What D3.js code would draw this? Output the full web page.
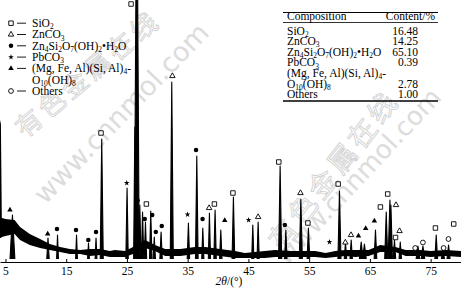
<!doctype html>
<html>
<head>
<meta charset="utf-8">
<style>
  body { margin: 0; background: #fff; }
  svg { display: block; font-family: "Liberation Serif", "Times New Roman", serif; }
  .open { fill: #fff; stroke: #000; stroke-width: 0.9; }
  .solid { fill: #000; stroke: none; }
  .wm-cn { font-family: "Noto Sans CJK SC", sans-serif; fill: none; stroke: #d2d2d2; stroke-width: 0.9; }
  .wm-en { font-family: "DejaVu Sans", sans-serif; fill: #dcdcdc; }
</style>
<script src="https://d3js.org/d3.v7.min.js"></script>
</head>
<body>
<svg width="461" height="289"></svg>
<script>
// background band of the scan (upper / lower edge of the noise), 2theta in degrees
var bgTheta = [4.1, 4.25, 4.4, 5.0, 6.5, 7.4, 9.0, 10.7, 12.3, 14.0, 15.6, 17.3, 18.9, 20.6, 22.2, 23.0,
               24.7, 26.0, 28.0, 29.6, 31.3, 33.8, 36.2, 37.9, 40.3, 42.8, 44.4, 47.7, 49.4, 51.9, 56.0,
               57.7, 59.3, 61.0, 62.6, 64.8, 66.7, 69.2, 70.9, 73.3, 75.0, 77.5, 80.0];
var bgUpper = [142, 138, 44, 43, 42, 35, 28, 23, 18, 15, 13, 12, 13, 13, 11, 12,
               11, 15, 22, 17, 13, 13, 15, 15, 13, 11, 9, 11, 12, 11, 11,
               9, 11, 12, 12, 12, 17, 15, 12, 12, 11, 12, 11];
var bgLower = [24, 24, 25, 26, 28, 22, 17, 14, 12, 10, 8, 8, 6, 7, 5, 5,
               5, 8, 14, 11, 6, 6, 8, 8, 6, 4, 4, 4, 5, 5, 5,
               4, 5, 6, 5, 6, 10, 10, 6, 6, 5, 6, 5];

// diffraction peaks
var peakTheta  = [6.15, 12.0, 13.57, 16.7, 18.67, 19.91, 20.85, 25.02, 26.3, 26.62, 27.12, 27.57, 28.05, 28.92, 29.5,
                  30.62, 32.38, 35.12, 36.5, 37.49, 38.58, 39.51, 40.45, 42.53, 45.72, 46.6, 50.22, 51.16, 53.63,
                  54.88, 59.99, 60.98, 61.92, 63.57, 64.1, 65.92, 67.69, 68.3, 68.46, 69.05, 70.0, 72.91, 73.73,
                  75.92, 77.02, 77.95];
var peakHeight = [47, 24, 27, 27, 19, 24, 123, 74, 135, 420, 57, 50, 40, 51, 25,
                  30, 180, 39, 106, 34, 49, 52, 32, 65, 37, 40, 96, 32, 63,
                  34, 71, 20, 22, 20, 18, 32, 50, 62, 57, 22, 20, 16, 16,
                  27, 14, 17];
var peakWidth  = [0.4, 0.2, 0.15, 0.15, 0.15, 0.15, 0.25, 0.2, 0.2, 0.4, 0.2, 0.2, 0.2, 0.2, 0.2,
                  0.2, 0.25, 0.2, 0.22, 0.18, 0.18, 0.2, 0.2, 0.22, 0.18, 0.18, 0.25, 0.2, 0.25,
                  0.22, 0.25, 0.2, 0.2, 0.3, 0.3, 0.22, 0.25, 0.3, 0.25, 0.2, 0.2, 0.3, 0.3,
                  0.22, 0.25, 0.25];

// phase labels placed over the peaks (index into phases)
var markTheta  = [25.68, 5.74, 11.95, 13.48, 16.61, 18.64, 19.91, 20.73, 24.97, 26.75, 27.93, 28.2, 29.17, 29.75,
                  30.73, 32.48, 34.98, 36.38, 37.45, 38.53, 39.4, 41.1, 42.45, 45.03, 46.6, 50.0, 51.0, 53.57,
                  54.79, 58.34, 59.78, 60.96, 61.89, 63.12, 64.31, 65.74, 66.73, 67.93, 69.3, 69.22, 69.88,
                  72.46, 73.73, 75.79, 77.13, 77.93, 78.8];
var markHeight = [258, 52, 28, 33, 32, 22, 30, 129, 79, 61.5, 43, 58, 47, 30,
                  36, 186, 47.5, 112, 43, 54, 58, 41.5, 69, 42, 45, 100, 37, 69,
                  39, 20, 78, 19.5, 27, 26, 33.5, 41, 55, 68, 57, 24.5, 31,
                  14, 19.5, 34, 14, 23, 38];
var markPhase  = [0, 4, 4, 2, 2, 2, 2, 0, 3, 2, 2, 0, 2, 2,
                  2, 1, 3, 2, 2, 1, 0, 4, 0, 3, 1, 0, 2, 1,
                  0, 3, 0, 1, 1, 4, 4, 4, 0, 0, 1, 0, 1,
                  5, 5, 0, 5, 5, 0];

var phases = ["SiO_2", "ZnCO_3", "Zn_4Si_2O_7(OH)_2•H_2O", "PbCO_3", "(Mg, Fe, Al)(Si, Al)_4-", "Others"];
var phaseExtra = ["", "", "", "", "O_{10}(OH)_8", ""];

var tableNames = ["SiO_2", "ZnCO_3", "Zn_4Si_2O_7(OH)_2•H_2O", "PbCO_3", "(Mg, Fe, Al)(Si, Al)_4-", "O_{10}(OH)_8", "Others"];
var tableValues = ["16.48", "14.25", "65.10", "0.39", "", "2.78", "1.00"];

var tickValues = [5, 15, 25, 35, 45, 55, 65, 75];

var svg = d3.select("svg");

var x = d3.scaleLinear().domain([4.1, 80]).range([0, 461]),
    y = d3.scaleLinear().domain([0, 262]).range([262, 0]);

// watermark of the source site
var wm = svg.append("g");
[[88, 74, -40, "有色金属在线", "wm-cn", 26],
 [334, 170, -52, "有色金属在线", "wm-cn", 28],
 [121, 113, -46, "www.cnnmol.com", "wm-en", 27],
 [358, 176, -47, "www.cnnmol.com", "wm-en", 26]].forEach(function(w) {
    wm.append("text")
      .attr("class", w[4])
      .attr("transform", "translate(" + w[0] + "," + w[1] + ") rotate(" + w[2] + ")")
      .attr("text-anchor", "middle")
      .attr("dy", "0.35em")
      .attr("font-size", w[5] + "px")
      .attr("letter-spacing", w[4] == "wm-cn" ? 4 : 0)
      .text(w[3]);
});

svg.append("clipPath").attr("id", "plot")
   .append("rect").attr("x", 0).attr("y", 0).attr("width", 461).attr("height", 262);

var g = svg.append("g").attr("clip-path", "url(#plot)");

var band = bgTheta.map(function(t, i) { return [t, bgUpper[i], bgLower[i]]; });
g.append("path")
 .datum(band)
 .attr("fill", "#000")
 .attr("d", d3.area()
     .x(function(d) { return x(d[0]); })
     .y0(function(d) { return y(d[2]); })
     .y1(function(d) { return y(d[1]); }));

var line = d3.line().x(function(d) { return x(d[0]); }).y(function(d) { return y(d[1]); });
g.selectAll(".peak")
 .data(peakTheta)
 .enter().append("path")
 .attr("class", "peak")
 .attr("fill", "#000")
 .attr("stroke", "#000")
 .attr("stroke-width", 1.1)
 .attr("stroke-linejoin", "round")
 .attr("d", function(t, i) {
     var w = peakWidth[i];
     return line([[t - w, 3], [t, peakHeight[i]], [t + w, 3]]);
 });

var axis = svg.append("g")
   .attr("transform", "translate(0,262)")
   .call(d3.axisBottom(x).tickValues(tickValues).tickSizeInner(-3).tickSizeOuter(0)
          .tickPadding(5).tickFormat(d3.format("d")));
axis.attr("font-family", null).attr("font-size", null);
axis.select(".domain").attr("stroke-width", 1.2);
axis.selectAll("text").attr("font-size", "11.5px");

svg.append("text")
   .attr("x", 229).attr("y", 285)
   .attr("text-anchor", "middle")
   .attr("font-size", "11.5px")
   .call(function(t) {
       t.append("tspan").attr("font-style", "italic").text("2θ");
       t.append("tspan").text("/(°)");
   });

var symbols = [d3.symbolSquare, d3.symbolTriangle, d3.symbolCircle, d3.symbolStar, d3.symbolTriangle, d3.symbolCircle],
    symSize = [20, 13, 16, 10, 13, 18],
    symSolid = [false, false, true, true, true, false];

function marker(sel, p) {
    sel.attr("class", symSolid[p] ? "solid" : "open")
       .attr("d", d3.symbol().type(symbols[p]).size(symSize[p])());
}

svg.selectAll(".mark")
   .data(markTheta)
   .enter().append("path")
   .each(function(t, i) { marker(d3.select(this), markPhase[i]); })
   .attr("transform", function(t, i) { return "translate(" + x(t) + "," + y(markHeight[i]) + ")"; });

// chemical formula with subscripts: _4 or _{10}
function formula(text, s) {
    var parts = s.split(/(_\{[^}]*\}|_\d+)/).filter(function(p) { return p; }),
        low = false;
    parts.forEach(function(p) {
        if (p[0] == "_") {
            text.append("tspan").attr("dy", low ? 0 : 2.2).attr("font-size", "7.5px")
                .text(p.replace(/^_\{?|\}$/g, ""));
            low = true;
        } else {
            text.append("tspan").attr("dy", low ? -2.2 : 0).text(p);
            low = false;
        }
    });
}

// legend
var leg = svg.append("g").attr("font-size", "11.5px");
var row = 0;
phases.forEach(function(name, p) {
    var base = 27 + row * 11.3;
    leg.append("path").call(marker, p).attr("transform", "translate(11," + (base - 3.8) + ")");
    leg.append("line").attr("x1", 17).attr("x2", 26).attr("y1", base - 3.8).attr("y2", base - 3.8)
       .attr("stroke", "#000").attr("stroke-width", 0.9);
    leg.append("text").attr("x", 32).attr("y", base).call(formula, name);
    row++;
    if (phaseExtra[p]) {
        leg.append("text").attr("x", 32).attr("y", 27 + row * 11.3).call(formula, phaseExtra[p]);
        row++;
    }
});

// composition table
var tbl = svg.append("g").attr("font-size", "11.5px");
[[12.5, 1.1], [22.5, 0.8], [101, 1.3]].forEach(function(r) {
    tbl.append("line").attr("x1", 283).attr("x2", 438).attr("y1", r[0]).attr("y2", r[0])
       .attr("stroke", "#000").attr("stroke-width", r[1]);
});
tbl.append("text").attr("x", 287).attr("y", 19.5).text("Composition");
tbl.append("text").attr("x", 435).attr("y", 19.5).attr("text-anchor", "end").text("Content/%");
tableNames.forEach(function(name, i) {
    var base = 34.5 + i * 10.6;
    tbl.append("text").attr("x", 287).attr("y", base).call(formula, name);
    tbl.append("text").attr("x", 418).attr("y", base).attr("text-anchor", "end").text(tableValues[i]);
});
</script>
</body>
</html>
